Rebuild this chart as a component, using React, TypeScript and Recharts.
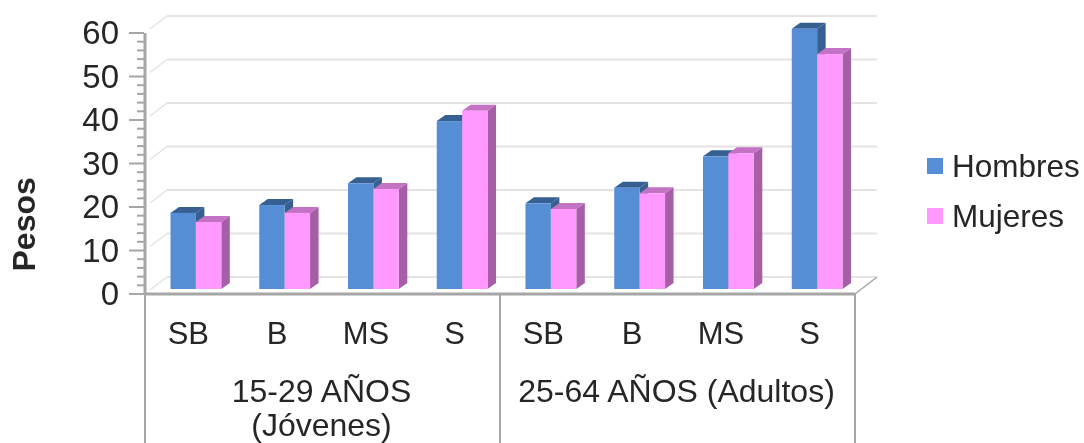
import { Bar, BarChart, CartesianGrid, Legend, XAxis, YAxis } from 'recharts';

const levels = ['SB', 'B', 'MS', 'S', 'SB', 'B', 'MS', 'S'];
const hombres = [17.5, 19.3, 24.3, 38.6, 19.7, 23.3, 30.5, 59.8];
const mujeres = [15.4, 17.5, 23, 41, 18.4, 22, 31.2, 54];
const ageGroups = [['15-29 AÑOS', '(Jóvenes)'], ['25-64 AÑOS (Adultos)']];
const yTicks = [0, 2, 4, 6, 8, 10, 12, 14, 16, 18, 20, 22, 24, 26, 28, 30, 32, 34, 36, 38, 40, 42, 44, 46, 48, 50, 52, 54, 56, 58, 60];
const gridValues = [0, 10, 20, 30, 40, 50, 60];

const data = levels.map((level, i) => ({
  id: i,
  level,
  Hombres: hombres[i],
  Mujeres: mujeres[i],
}));

const BLUE = '#558ed5';
const PINK = '#ff99ff';
const AXIS = '#a6a6a6';
const GRID = '#e4e4e4';
const TEXT = '#262626';
const FONT = '"Liberation Sans", Arial, sans-serif';

// fake 3D: how far the back wall sits from the front plane
const WALL_X = 22;
const WALL_Y = 17;
// bars stand a little way back on the floor
const BAR_DX = 6.5;
const BAR_DY = -5;
const DEPTH_X = 8.5;
const DEPTH_Y = 6;

function Bar3D({ x, y, width, height, fill, side, top }: any) {
  const l = x + BAR_DX;
  const r = l + width;
  const t = y + BAR_DY;
  const b = t + height;
  return (
    <g>
      <polygon
        points={`${r},${t} ${r + DEPTH_X},${t - DEPTH_Y} ${r + DEPTH_X},${b - DEPTH_Y} ${r},${b}`}
        fill={side}
      />
      <polygon
        points={`${l},${t} ${l + DEPTH_X},${t - DEPTH_Y} ${r + DEPTH_X},${t - DEPTH_Y} ${r},${t}`}
        fill={top}
      />
      <rect x={l} y={t} width={width} height={height} fill={fill} />
    </g>
  );
}

function GridLine({ x1, x2, y1 }: any) {
  return (
    <g>
      <line x1={x1 + WALL_X} x2={x2 + WALL_X} y1={y1 - WALL_Y} y2={y1 - WALL_Y} stroke={GRID} strokeWidth={2} />
      <line x1={x1 + 5} x2={x1 + WALL_X} y1={y1 - 4} y2={y1 - WALL_Y} stroke={GRID} strokeWidth={1.5} />
      <line x1={x2} x2={x2 + WALL_X} y1={y1} y2={y1 - WALL_Y} stroke={y1 > 290 ? AXIS : 'none'} strokeWidth={1.5} />
    </g>
  );
}

function YTick({ x, y, payload }: any) {
  const major = payload.value % 10 === 0;
  return (
    <g>
      <line x1={major ? x - 8 : x} x2={x + 7} y1={y} y2={y} stroke={AXIS} strokeWidth={2} />
      {major && (
        <text x={x - 18} y={y + 11} textAnchor="end" fontSize={33} fontFamily={FONT} fill={TEXT}>
          {payload.value}
        </text>
      )}
    </g>
  );
}

function XTick({ x, y, payload, index }: any) {
  const slot = 88.75;
  const group = index === 1 ? ageGroups[0] : index === 5 ? ageGroups[1] : null;
  const edge = index % 4 === 0 ? x - slot / 2 : null;
  return (
    <g fontFamily={FONT} fontSize={31} fill={TEXT} textAnchor="middle">
      {edge !== null && <line x1={edge} x2={edge} y1={294} y2={443} stroke={AXIS} strokeWidth={2} />}
      {index === 7 && <line x1={x + slot / 2} x2={x + slot / 2} y1={294} y2={443} stroke={AXIS} strokeWidth={2} />}
      <text x={x - 1} y={y + 42}>{payload.value}</text>
      {group &&
        group.map((line, i) => (
          <text key={line} x={x + slot / 2 - 1} y={y + 100 + i * 34} fontSize={32}>
            {line}
          </text>
        ))}
    </g>
  );
}

function LegendBox({ payload }: any) {
  return (
    <div style={{ fontFamily: FONT, fontSize: 31.5, color: TEXT }}>
      {payload.map((item: any) => (
        <div key={item.value} style={{ display: 'flex', alignItems: 'center', height: 50 }}>
          <span style={{ width: 16, height: 16, background: item.color, marginRight: 9 }} />
          {item.value}
        </div>
      ))}
    </div>
  );
}

export default function App() {
  return (
    <div style={{ position: 'absolute', left: 0, top: 0, width: 1084, height: 443, overflow: 'hidden', filter: 'blur(0.5px)' }}>
      <BarChart
        width={1084}
        height={443}
        data={data}
        margin={{ top: 33, right: 72, bottom: 0, left: 0 }}
        barGap={0}
        barSize={25.4}
      >
        <CartesianGrid horizontalValues={gridValues} vertical={false} horizontal={(p: any) => <GridLine key={p.y1} {...p} />} />
        <XAxis
          dataKey="id"
          type="category"
          height={149}
          interval={0}
          tick={(p: any) => <XTick {...p} payload={{ value: levels[p.payload.value] }} />}
          tickLine={false}
          axisLine={{ stroke: AXIS, strokeWidth: 3 }}
        />
        <YAxis
          width={145}
          domain={[0, 60]}
          ticks={yTicks}
          interval={0}
          tick={(p: any) => <YTick {...p} />}
          tickLine={false}
          axisLine={{ stroke: AXIS, strokeWidth: 3 }}
          label={{
            value: 'Pesos',
            angle: -90,
            position: 'insideLeft',
            dx: 19,
            dy: 108,
            style: { fontFamily: FONT, fontSize: 32, fontWeight: 700, fill: TEXT },
          }}
        />
        <Legend
          layout="vertical"
          verticalAlign="top"
          align="right"
          wrapperStyle={{ left: 927, top: 141, width: 157 }}
          content={(p: any) => <LegendBox {...p} />}
        />
        <Bar
          dataKey="Hombres"
          fill={BLUE}
          isAnimationActive={false}
          shape={(p: any) => <Bar3D {...p} fill={BLUE} side="#376092" top="#376092" />}
        />
        <Bar
          dataKey="Mujeres"
          fill={PINK}
          isAnimationActive={false}
          shape={(p: any) => <Bar3D {...p} fill={PINK} side="#a65ea6" top="#c472c4" />}
        />
      </BarChart>
    </div>
  );
}
